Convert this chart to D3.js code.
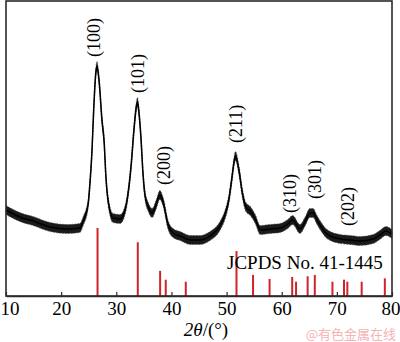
<!DOCTYPE html>
<html><head><meta charset="utf-8">
<script src="https://cdn.jsdelivr.net/npm/d3@7"></script>
<style>html,body{margin:0;padding:0;background:#fff;}svg{display:block;}</style>
</head><body>
<svg id="chart" width="400" height="342"></svg>
<script>
// ---- data ----
const twoTheta = [10.0,12.5,14.9,18.0,21.1,23.4,24.0,24.9,25.2,25.6,25.9,26.3,26.5,26.9,27.4,27.8,28.1,28.5,29.4,30.7,31.6,32.1,32.7,33.2,33.6,33.85,34.1,34.5,34.8,35.2,35.8,36.5,37.2,37.9,38.5,39.4,40.3,41.6,43.4,45.2,47.0,48.8,49.7,50.4,50.9,51.3,51.6,52.3,52.8,53.5,54.3,55.2,56.1,57.9,59.7,61.1,62.0,63.3,64.2,65.1,65.7,66.4,67.3,68.2,70.6,72.4,74.2,76.6,77.8,78.9,80.0];
const intensity = [86,79,75,69,67,68,75,92,111,146,186,224,230,214,176,154,121,96,78,77,86,101,131,166,188,194,184,156,126,101,89,83,91,101,94,71,63,60,56,56,60,70,81,96,115,132,140,124,105,89,85,77,66,67,68,72,76,67,74,83,83,76,68,62,57,56,55,57,61,65,62];
const refPositions = [26.6,33.9,37.95,38.97,42.6,51.8,54.8,57.8,61.9,62.6,64.7,66.0,69.2,71.3,71.9,74.5,78.7];
const refIntensities = [100,79,37,24,21,66,31,25,28,21,29,31,21,24,21,21,26];
const xTicks = [10,20,30,40,50,60,70,80];
const peakLabels = ["(100)","(101)","(200)","(211)","(310)","(301)","(202)"];
const peakLabelTheta = [25.96,33.94,38.65,51.71,61.5,66.04,72.0];
const peakLabelBaseI = [239,203,111,153,83,97,70];
const refCardLabel = "JCPDS No. 41-1445";
const watermark = "@有色金属在线";

// ---- layout ----
const svg = d3.select("#chart");
const L = 6, R = 392, T = 1, B = 296;
const x = d3.scaleLinear().domain([10,80]).range([L,R]);
const y = d3.scaleLinear().domain([0,295]).range([B,T]);
const yRef = d3.scaleLinear().domain([0,100]).range([B,228]);
const serif = "'Liberation Serif','Times New Roman',serif";

// reference lines
svg.append("g").selectAll("line").data(refPositions).join("line")
  .attr("x1", d=>x(d)).attr("x2", d=>x(d))
  .attr("y1", B).attr("y2", (d,i)=>yRef(refIntensities[i]))
  .attr("stroke","#d0232a").attr("stroke-width",2);

// XRD pattern (noisy band)
const pts = twoTheta.map((t,i)=>[t,intensity[i]]);
const half = 4.5;
svg.append("path").datum(pts)
  .attr("d", d3.area().curve(d3.curveMonotoneX)
    .x(d=>x(d[0])).y0(d=>y(d[1])+half).y1(d=>y(d[1])-half))
  .attr("fill","#1a1a1a").attr("stroke","#555").attr("stroke-width",0.8).attr("stroke-dasharray","1.5,1.5");
svg.append("path").datum(pts)
  .attr("d", d3.line().curve(d3.curveMonotoneX).x(d=>x(d[0])).y(d=>y(d[1])))
  .attr("fill","none").attr("stroke","#000").attr("stroke-width",1.5);

// frame
svg.append("rect").attr("x",L).attr("y",T).attr("width",R-L).attr("height",B-T)
  .attr("fill","none").attr("stroke","#2a2a2a").attr("stroke-width",1.6);

// x axis
const axis = d3.axisBottom(x).tickValues(xTicks).tickSizeInner(-4).tickSizeOuter(0).tickPadding(8);
const ax = svg.append("g").attr("transform",`translate(0,${B})`).call(axis);
ax.select(".domain").attr("stroke","#2a2a2a").attr("stroke-width",1.6);
ax.selectAll(".tick line").attr("stroke","#2a2a2a").attr("stroke-width",1.2);
ax.selectAll(".tick text").attr("font-family",serif).attr("font-size",19).attr("fill","#000")
  .attr("dy",null).attr("y",19)
  .attr("text-anchor",(d,i,n)=> i===0 ? "start" : (i===n.length-1 ? "end" : "middle"))
  .attr("x",(d,i,n)=> i===0 ? -L : (i===n.length-1 ? 400-R : 0));

// x label
const xl = svg.append("text").attr("x",206).attr("y",336).attr("text-anchor","middle")
  .attr("font-family",serif).attr("font-size",19).attr("fill","#000");
xl.append("tspan").attr("font-style","italic").text("2θ");
xl.append("tspan").text("/(°)");

// peak labels
svg.append("g").selectAll("text").data(peakLabels).join("text")
  .attr("transform",(d,i)=>`translate(${x(peakLabelTheta[i])},${y(peakLabelBaseI[i])}) rotate(-90)`)
  .attr("text-anchor","start").attr("dominant-baseline","central")
  .attr("font-family",serif).attr("font-size",18).attr("fill","#000")
  .text(d=>d);

// card label
svg.append("text").attr("x",227).attr("y",269).attr("font-family",serif)
  .attr("font-size",19).attr("fill","#000").text(refCardLabel);

// watermark
svg.append("text").attr("x",396).attr("y",339).attr("text-anchor","end")
  .attr("font-family","'Noto Sans CJK SC',sans-serif").attr("font-size",13)
  .attr("fill","#f2b4b4").text(watermark);
</script>
</body></html>
